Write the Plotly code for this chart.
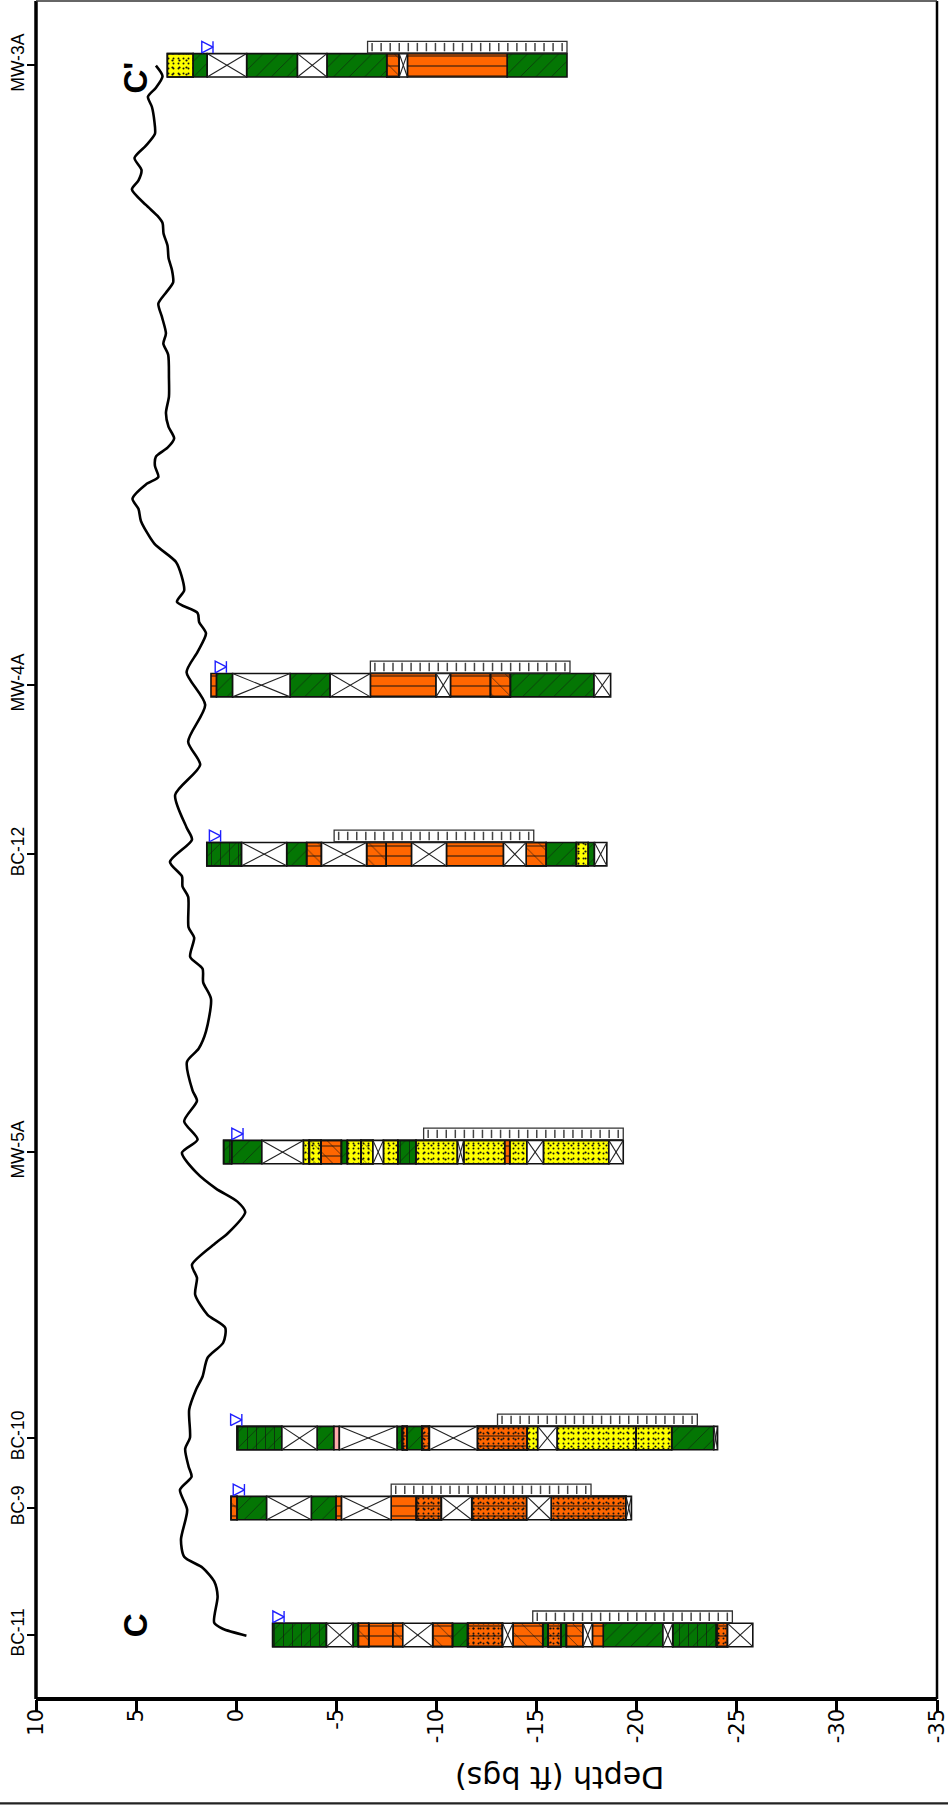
import plotly.graph_objects as go

# ---------- data ----------
WELLS = ["BC-11", "BC-9", "BC-10", "MW-5A", "BC-12", "MW-4A", "MW-3A"]
STATIONS = [64, 191, 261, 547, 845, 1014, 1634]
WATER_LEVEL = [-2.39, -0.41, -0.28, -0.34, 0.78, 0.49, 1.16]
SCREEN_TOP = [14.81, 7.74, 13.05, 9.36, 4.89, 6.70, 6.56]
SCREEN_BOTTOM = [24.78, 17.72, 23.03, 19.33, 14.86, 16.67, 16.52]

BC11_DEPTHS = [1.82, 4.51, 5.83, 6.10, 6.62, 7.82, 8.32, 9.81, 10.80, 11.56, 13.30, 13.82, 15.31, 15.58,
               16.21, 16.49, 17.32, 17.79, 18.33, 21.31, 21.80, 24.0, 24.54, 25.8]
BC11_UNITS = ["clay_v", "none", "clay", "silt_b", "silt", "silt_b", "none", "silt_b", "clay", "silty", "none",
              "silt_b", "clay", "silty", "clay", "silt_b", "none", "silt", "clay", "none", "clay_v", "silty", "none"]
BC9_DEPTHS = [-0.26, 0.04, 1.52, 3.75, 4.99, 5.26, 7.74, 9.0, 10.25, 11.76, 14.51, 15.73, 19.47, 19.74]
BC9_UNITS = ["silt_b", "clay", "none", "clay", "silt", "none", "silt", "silty", "none", "silty", "none", "silty", "none"]
BC10_DEPTHS = [0.04, 2.28, 4.04, 4.88, 5.15, 8.03, 8.30, 8.53, 9.27, 9.65, 12.04, 14.53, 15.06, 16.02, 19.97,
               21.75, 23.85, 24.04]
BC10_UNITS = ["clay_v", "none", "clay", "pink", "none", "clay", "silty", "clay", "silty", "none", "silty", "sand",
              "none", "sand", "sand", "clay", "none"]
MW5A_DEPTHS = [-0.63, -0.23, 1.28, 3.35, 3.65, 4.24, 5.25, 5.55, 6.23, 6.83, 7.35, 8.07, 8.98, 11.05, 11.36,
               13.42, 13.66, 14.52, 15.34, 18.61, 19.33]
MW5A_UNITS = ["clay_v", "clay", "none", "sand", "sand_b", "silt_b", "clay", "sand", "sand_b", "none", "sand",
              "clay_v", "sand", "none", "sand", "silt", "sand", "none", "sand", "none"]
BC12_DEPTHS = [-1.47, 0.27, 2.52, 3.52, 4.26, 6.51, 7.49, 8.76, 10.50, 13.35, 14.48, 15.48, 16.99, 17.58, 17.89, 18.51]
BC12_UNITS = ["clay_v", "none", "clay", "silt_b", "none", "silt_b", "silt", "none", "silt", "none", "silt_b",
              "clay", "sand", "clay", "none"]
MW4A_DEPTHS = [-1.26, -0.99, -0.18, 2.69, 4.69, 6.70, 9.98, 10.70, 12.70, 13.69, 17.87, 18.70]
MW4A_UNITS = ["silt", "clay", "none", "clay", "none", "silt", "none", "silt", "silt_b", "clay", "none"]
MW3A_DEPTHS = [-3.44, -2.15, -1.45, 0.52, 3.06, 4.53, 7.52, 8.14, 8.55, 13.53, 16.52]
MW3A_UNITS = ["sand", "clay", "none", "clay", "none", "clay", "silt_b", "none", "silt", "clay"]

GROUND_STATION = [63.3, 70.3, 76.3, 102.6, 117.6, 131.3, 142.3, 159.3, 189.3, 209.3, 222.3, 232.6, 250.3, 261.3,
                  289.3, 309.3, 322.6, 341.3, 356.3, 371.3, 384.3, 404.3, 421.3, 434.3, 456.3, 465.6, 486.9, 497.5,
                  510.5, 526.9, 546.4, 559.5, 577.9, 598.3, 608.5, 637.3, 650.3, 667.7, 700.3, 716.7, 730.3, 742.3,
                  761.5, 771.7, 802.3, 812.6, 822.8, 837.3, 859.5, 871.7, 904.3, 934.3, 957.5, 994.3, 1026.9, 1047.3,
                  1065.8, 1076.9, 1086.3, 1097.3, 1108.7, 1123.3, 1137.3, 1155.6, 1178.3, 1190.3, 1200.5, 1214.8,
                  1222.3, 1233.3, 1242.6, 1251.5, 1260.9, 1272.3, 1286.3, 1302.6, 1321.3, 1344.6, 1355.6, 1365.8,
                  1382.3, 1395.6, 1406.6, 1416.9, 1429.3, 1441.3, 1453.6, 1465.8, 1476.3, 1483.3, 1494.3, 1509.9,
                  1518.9, 1529.3, 1541.3, 1553.6, 1565.3, 1578.3, 1592.3, 1602.6, 1611.5, 1623, 1633.6]
GROUND_ELEV = [-0.51, 0.68, 1.10, 0.93, 1.10, 1.68, 2.60, 2.76, 2.45, 2.81, 2.23, 2.38, 2.55, 2.31,
               2.35, 2.01, 1.68, 1.43, 0.65, 0.55, 1.43, 2.05, 1.96, 2.21, 1.01, 0.43, -0.45, -0.06,
               1.01, 2.01, 2.71, 1.93, 2.60, 1.96, 2.18, 2.46, 1.88, 1.51, 1.26, 1.65, 1.68, 2.30,
               2.10, 2.38, 2.40, 2.68, 2.71, 3.31, 2.21, 2.48, 3.05, 1.80, 2.40, 1.55, 2.48, 1.93,
               1.51, 1.85, 1.93, 2.96, 2.60, 2.73, 3.01, 4.09, 4.76, 4.88, 5.18, 4.51,
               3.89, 4.06, 4.01, 3.43, 3.10, 3.38, 3.51, 3.36, 3.36, 3.40, 3.64, 3.51,
               3.71, 3.89, 3.51, 3.15, 3.21, 3.38, 3.43, 3.63, 3.68, 3.93, 4.51, 5.21,
               4.88, 4.73, 5.08, 4.51, 4.06, 4.09, 4.21, 4.41, 4.01, 3.68, 4.01]
DEPTH_TICKS = [10, 5, 0, -5, -10, -15, -20, -25, -30, -35]

LOGS = [(BC11_DEPTHS, BC11_UNITS), (BC9_DEPTHS, BC9_UNITS), (BC10_DEPTHS, BC10_UNITS), (MW5A_DEPTHS, MW5A_UNITS),
        (BC12_DEPTHS, BC12_UNITS), (MW4A_DEPTHS, MW4A_UNITS), (MW3A_DEPTHS, MW3A_UNITS)]

# ---------- styles ----------
GREEN, ORANGE, YELLOW, PINK = "#047604", "#ff6600", "#ffff00", "#ffaaaa"
INK = "#111111"
DOTS = [(".", 5, 0.12), (".", 7, 0.08)]
STYLES = {
    "clay": (GREEN, [("/", 11, 0.05)]),
    "clay_v": (GREEN, [("/", 11, 0.05), ("|", 9, 0.07)]),
    "sand": (YELLOW, DOTS),
    "sand_b": (YELLOW, DOTS + [("\\", 12, 0.04)]),
    "silt": (ORANGE, [("-", 10, 0.10)]),
    "silt_b": (ORANGE, [("-", 10, 0.09), ("\\", 12, 0.05)]),
    "silty": (ORANGE, DOTS + [("-", 10, 0.10)]),
    "pink": (PINK, []),
    "none": ("#ffffff", []),
}
HALF = 11.7        # half thickness of a boring column, station units
SCREEN_OFF = 18.2  # offset of the screen row
SCREEN_H = 11.6
TICK_STEP = 0.452  # spacing of the screen slots, ft

fig = go.Figure()

groups = {k: {"y": [], "x": [], "base": []} for k in STYLES}
cross_x, cross_y = [], []
for st, (depths, units) in zip(STATIONS, LOGS):
    for a, b, u in zip(depths[:-1], depths[1:], units):
        g = groups[u]
        g["y"].append(st)
        g["x"].append(-(b - a))
        g["base"].append(-a)
        if u == "none":
            cross_x += [-a, -b, None, -a, -b, None]
            cross_y += [st - HALF, st + HALF, None, st + HALF, st - HALF, None]

for u, (color, pats) in STYLES.items():
    g = groups[u]
    if not g["y"]:
        continue
    first = pats[0] if pats else ("", 8, 0.1)
    fig.add_bar(orientation="h", y=g["y"], x=g["x"], base=g["base"], width=2 * HALF,
                marker=dict(color=color, line=dict(color=INK, width=1.6),
                            pattern=dict(shape=first[0], size=first[1], solidity=first[2],
                                         fgcolor=INK, bgcolor=color, fillmode="replace")))
    for p in pats[1:]:
        fig.add_bar(orientation="h", y=g["y"], x=g["x"], base=g["base"], width=2 * HALF,
                    marker=dict(color="rgba(0,0,0,0)", line=dict(color=INK, width=1.6),
                                pattern=dict(shape=p[0], size=p[1], solidity=p[2], fgcolor=INK,
                                             bgcolor="rgba(0,0,0,0)", fillmode="replace")))

fig.add_scatter(x=cross_x, y=cross_y, mode="lines", line=dict(color="#222222", width=1.1))

# screens
scr_y = [s + SCREEN_OFF for s in STATIONS]
fig.add_bar(orientation="h", y=scr_y, x=[-(b - a) for a, b in zip(SCREEN_TOP, SCREEN_BOTTOM)],
            base=[-a for a in SCREEN_TOP], width=SCREEN_H,
            marker=dict(color="#ffffff", line=dict(color="#333333", width=1.3)))
tx, ty = [], []
for y0, a, b in zip(scr_y, SCREEN_TOP, SCREEN_BOTTOM):
    d = a + TICK_STEP / 2
    while d < b:
        tx.append(-d)
        ty.append(y0)
        d += TICK_STEP
fig.add_scatter(x=tx, y=ty, mode="markers",
                marker=dict(symbol="line-ns", size=6, line=dict(color="#444444", width=1.5)))

# water levels
wx, wy = [], []
for st, w in zip(STATIONS, WATER_LEVEL):
    low, mid, high = st + SCREEN_OFF - SCREEN_H / 2, st + SCREEN_OFF, st + SCREEN_OFF + SCREEN_H / 2
    wx += [w, w, None, w + 0.56, w, w + 0.56, w + 0.56, None]
    wy += [low, high, None, low, mid, high, low, None]
fig.add_scatter(x=wx, y=wy, mode="lines", line=dict(color="#1f1fff", width=1.4))

# ground surface
fig.add_scatter(x=GROUND_ELEV, y=GROUND_STATION, mode="lines",
                line=dict(color="#000000", width=2.6, shape="spline", smoothing=0.7))

fig.update_layout(
    width=948, height=1806, margin=dict(l=36.3, r=10.7, t=1, b=106.7, autoexpand=False),
    barmode="overlay", showlegend=False, paper_bgcolor="white", plot_bgcolor="white",
    xaxis=dict(range=[10, -35], tickvals=DEPTH_TICKS, ticktext=[str(v) for v in DEPTH_TICKS], tickangle=-90,
               ticks="outside", ticklen=11.5, tickwidth=3, tickcolor="black", showgrid=False, zeroline=False,
               showline=False, ticklabeloverflow="allow", ticklabelstandoff=-11,
               tickfont=dict(family="DejaVu Sans", size=21, color="black")),
    yaxis=dict(range=[0, 1698.3], tickvals=STATIONS, ticktext=WELLS, tickangle=-90, ticks="outside", ticklen=8.3,
               tickwidth=2, tickcolor="black", showgrid=False, zeroline=False, showline=False,
               ticklabelstandoff=-4, tickfont=dict(family="Liberation Sans", size=17.5, color="black")),
    shapes=[
        dict(type="line", xref="paper", yref="paper", x0=0, x1=0, y0=0, y1=1, line=dict(color="black", width=3.5)),
        dict(type="line", xref="paper", yref="paper", x0=0, x1=1, y0=0, y1=0, line=dict(color="black", width=4)),
        dict(type="line", xref="paper", yref="paper", x0=1, x1=1, y0=0, y1=1, line=dict(color="black", width=2.5)),
        dict(type="line", xref="paper", yref="paper", x0=0, x1=1, y0=1, y1=1, line=dict(color="#333333", width=1.5)),
        dict(type="line", xref="paper", yref="paper", x0=-0.05, x1=1.02, y0=-104.3 / 1698.3, y1=-104.3 / 1698.3,
             line=dict(color="#222222", width=2.2)),
    ],
    annotations=[
        dict(x=-16.18, y=0, yref="paper", yanchor="middle", yshift=-79, text="Depth (ft bgs)", textangle=180,
             showarrow=False, font=dict(family="DejaVu Sans", size=30, color="black")),
        dict(x=5.04, y=74, text="<b>C</b>", textangle=-90, showarrow=False,
             font=dict(family="Liberation Sans", size=33, color="black")),
        dict(x=5.04, y=1622, text="<b>C'</b>", textangle=-90, showarrow=False,
             font=dict(family="Liberation Sans", size=33, color="black")),
    ],
)

fig.write_html("out.html", config={"displayModeBar": False}, post_script="document.body.style.margin='0';")
